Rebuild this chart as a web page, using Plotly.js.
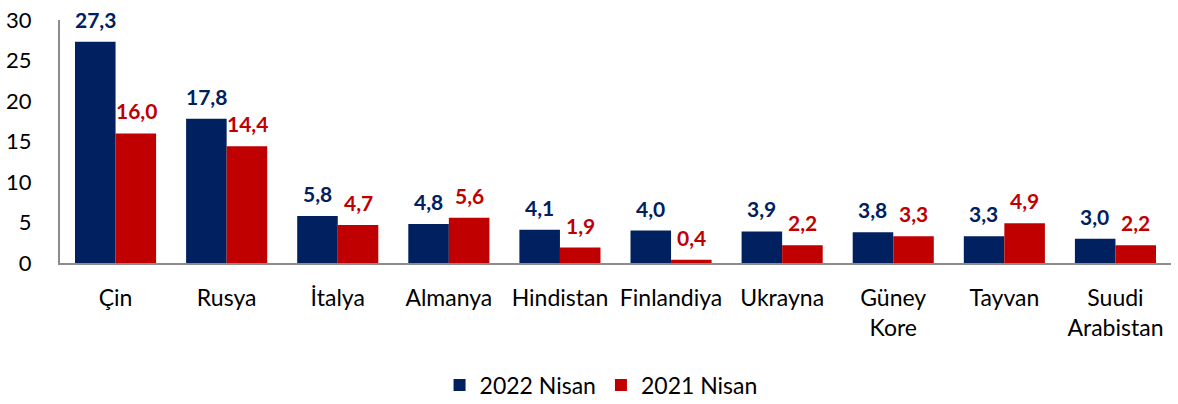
<!DOCTYPE html>
<html><head><meta charset="utf-8">
<script src="https://cdn.plot.ly/plotly-3.0.1.min.js"></script>
<style>html,body{margin:0;padding:0;background:#fff}#chart{width:1178px;height:404px}</style>
</head><body><div id="chart"></div>
<script>
const categories = ["Çin","Rusya","İtalya","Almanya","Hindistan","Finlandiya","Ukrayna","Güney<br>Kore","Tayvan","Suudi<br>Arabistan"];
const series2022 = [27.3,17.8,5.8,4.8,4.1,4.0,3.9,3.8,3.3,3.0];
const series2021 = [16.0,14.4,4.7,5.6,1.9,0.4,2.2,3.3,4.9,2.2];
const name2022 = "2022 Nisan";
const name2021 = "2021 Nisan";
const blue = "#002060", red = "#C00000";
const FONT = "Lato, 'Open Sans', sans-serif";

const fmt = v => v.toFixed(1).replace('.', ',');
const annotations = [];
categories.forEach((c,i)=>{
  annotations.push({x:c, y:series2022[i], xref:'x', yref:'y', text:fmt(series2022[i]), showarrow:false, xshift:-20.5, yshift:8, yanchor:'bottom', font:{family:FONT,size:21,color:blue,weight:'bold'}});
  annotations.push({x:c, y:series2021[i], xref:'x', yref:'y', text:fmt(series2021[i]), showarrow:false, xshift:20.5, yshift:8, yanchor:'bottom', font:{family:FONT,size:21,color:red,weight:'bold'}});
});

const data = [
  {type:'bar', x:categories, y:series2022, name:name2022, marker:{color:blue}},
  {type:'bar', x:categories, y:series2021, name:name2021, marker:{color:red}}
];
const layout = {
  width:1178, height:404,
  margin:{l:60, r:7, t:20, b:141, autoexpand:false},
  barmode:'group', bargap:0.27, bargroupgap:0,
  paper_bgcolor:'#fff', plot_bgcolor:'#fff',
  font:{family:FONT, size:22, color:'#000'},
  xaxis:{type:'category', automargin:false, showline:true, linecolor:'#8c8c8c', linewidth:2, ticks:'', showgrid:false, zeroline:false, ticklabelstandoff:13, tickfont:{size:23}},
  yaxis:{range:[0,30], dtick:5, automargin:false, showline:true, linecolor:'#8c8c8c', linewidth:2, ticks:'', showgrid:false, zeroline:false, ticklabelstandoff:22, tickfont:{size:22}},
  showlegend:true,
  legend:{orientation:'h', x:0.487, xanchor:'center', yref:'container', y:0.047, yanchor:'middle', font:{size:23}, itemwidth:30, traceorder:'normal'},
  annotations:annotations
};
Plotly.newPlot('chart', data, layout, {displayModeBar:false, staticPlot:true});
</script></body></html>
